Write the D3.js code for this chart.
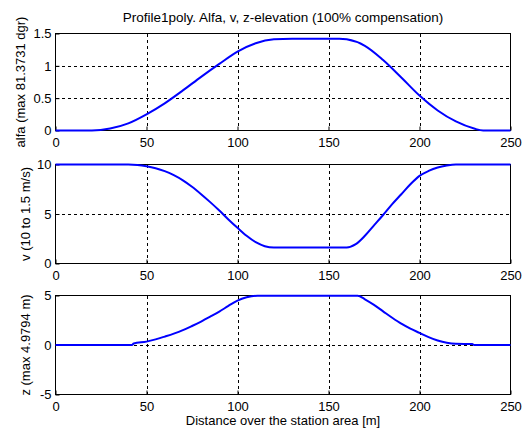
<!DOCTYPE html>
<html>
<head>
<meta charset="utf-8">
<script src="https://cdn.jsdelivr.net/npm/d3@7"></script>
<style>
	body { margin: 0; background: #fff; }
	svg { font-family: "Liberation Sans", Arial, sans-serif; }
	.axis text { font-size: 13px; fill: #000; }
	.axis line { stroke: #000; }
	.grid line { stroke: #000; stroke-dasharray: 3,3; shape-rendering: crispEdges; }
</style>
</head>
<body>
<svg id="chart" width="526" height="432"></svg>
<script>
// distance along the station area [m]
const alfaX = [0, 10, 20, 30, 40, 50, 60, 70, 80, 90, 100, 110, 120, 130, 140, 150, 156, 160, 170, 180, 190, 200, 210, 220, 230, 235, 240, 250];
const alfaY = [0, 0, 0, 0.03, 0.11, 0.25, 0.42, 0.62, 0.83, 1.03, 1.22, 1.35, 1.41, 1.42, 1.42, 1.42, 1.42, 1.41, 1.31, 1.09, 0.82, 0.54, 0.31, 0.14, 0.03, 0, 0, 0];

const vX = [0, 20, 40, 45, 50, 55, 60, 65, 70, 75, 80, 85, 90, 95, 100, 105, 110, 115, 120, 130, 140, 150, 160, 165, 170, 175, 180, 185, 190, 195, 200, 205, 210, 215, 220, 230, 250];
const vY = [10, 10, 10, 9.95, 9.82, 9.62, 9.33, 8.92, 8.4, 7.75, 7.0, 6.2, 5.35, 4.45, 3.6, 2.8, 2.15, 1.75, 1.62, 1.62, 1.62, 1.62, 1.62, 1.95, 2.8, 3.85, 4.9, 6.0, 7.0, 8.0, 8.85, 9.35, 9.7, 9.9, 10, 10, 10];

const zX = [0, 20, 42, 43, 50, 55, 60, 65, 70, 75, 80, 85, 90, 95, 100, 105, 111, 130, 150, 166, 170, 175, 180, 185, 190, 195, 200, 205, 210, 215, 220, 229, 230, 240, 250];
const zY = [0, 0, 0, 0.15, 0.34, 0.57, 0.85, 1.15, 1.5, 1.92, 2.37, 2.86, 3.37, 3.95, 4.49, 4.82, 4.98, 4.98, 4.98, 4.98, 4.62, 4.05, 3.4, 2.75, 2.15, 1.65, 1.22, 0.8, 0.45, 0.22, 0.12, 0.1, 0, 0, 0];

const xTicks = [0, 50, 100, 150, 200, 250];

const panels = [
	{ x: alfaX, y: alfaY, domain: [0, 1.5], ticks: [0, 0.5, 1, 1.5], label: "alfa (max 81.3731 dgr)", top: 33.5, bottom: 130.5, labelX: 25 },
	{ x: vX, y: vY, domain: [0, 10], ticks: [0, 5, 10], label: "v (10 to 1.5 m/s)", top: 164.5, bottom: 263.5, labelX: 30 },
	{ x: zX, y: zY, domain: [-5, 5], ticks: [-5, 0, 5], label: "z (max 4.9794 m)", top: 295.5, bottom: 394.5, labelX: 30 }
];

const svg = d3.select("#chart");
const left = 55.5, right = 510.5;

const x = d3.scaleLinear().domain([0, 250]).range([left, right]);

svg.append("text")
	.attr("x", (left + right) / 2)
	.attr("y", 22)
	.attr("text-anchor", "middle")
	.style("font-size", "13.5px")
	.text("Profile1poly. Alfa, v, z-elevation (100% compensation)");

panels.forEach(p => {
	const y = d3.scaleLinear().domain(p.domain).range([p.bottom, p.top]);
	const g = svg.append("g");

	// grid
	const grid = g.append("g").attr("class", "grid");
	grid.selectAll("line.gx")
		.data(xTicks.slice(1, -1))
		.enter().append("line")
		.attr("x1", d => Math.round(x(d)) + 0.5).attr("x2", d => Math.round(x(d)) + 0.5)
		.attr("y1", p.top).attr("y2", p.bottom);
	grid.selectAll("line.gy")
		.data(p.ticks.slice(1, -1))
		.enter().append("line")
		.attr("y1", d => Math.round(y(d)) + 0.5).attr("y2", d => Math.round(y(d)) + 0.5)
		.attr("x1", left).attr("x2", right);

	// axes
	g.append("g")
		.attr("class", "axis")
		.attr("transform", `translate(0,${p.bottom})`)
		.call(d3.axisBottom(x).tickValues(xTicks).tickSizeInner(-4).tickSizeOuter(0).tickPadding(7))
		.call(a => a.select(".domain").remove());

	g.append("g")
		.attr("class", "axis")
		.attr("transform", `translate(${left},0)`)
		.call(d3.axisLeft(y).tickValues(p.ticks).tickSizeInner(-4).tickSizeOuter(0).tickPadding(4).tickFormat(d => String(d)))
		.call(a => a.select(".domain").remove());

	// frame
	g.append("rect")
		.attr("x", left).attr("y", p.top)
		.attr("width", right - left).attr("height", p.bottom - p.top)
		.attr("fill", "none")
		.attr("stroke", "#000")
		.attr("shape-rendering", "crispEdges");

	// curve
	const line = d3.line()
		.x(d => x(d[0]))
		.y(d => y(d[1]))
		.curve(d3.curveMonotoneX);

	g.append("path")
		.datum(p.x.map((d, i) => [d, p.y[i]]))
		.attr("fill", "none")
		.attr("stroke", "#0000ff")
		.attr("stroke-width", 2)
		.attr("d", line);

	// y label
	svg.append("text")
		.attr("transform", `translate(${p.labelX},${(p.top + p.bottom) / 2}) rotate(-90)`)
		.attr("text-anchor", "middle")
		.style("font-size", "13px")
		.text(p.label);
});

svg.append("text")
	.attr("x", (left + right) / 2)
	.attr("y", 425)
	.attr("text-anchor", "middle")
	.style("font-size", "13px")
	.text("Distance over the station area [m]");
</script>
</body>
</html>
